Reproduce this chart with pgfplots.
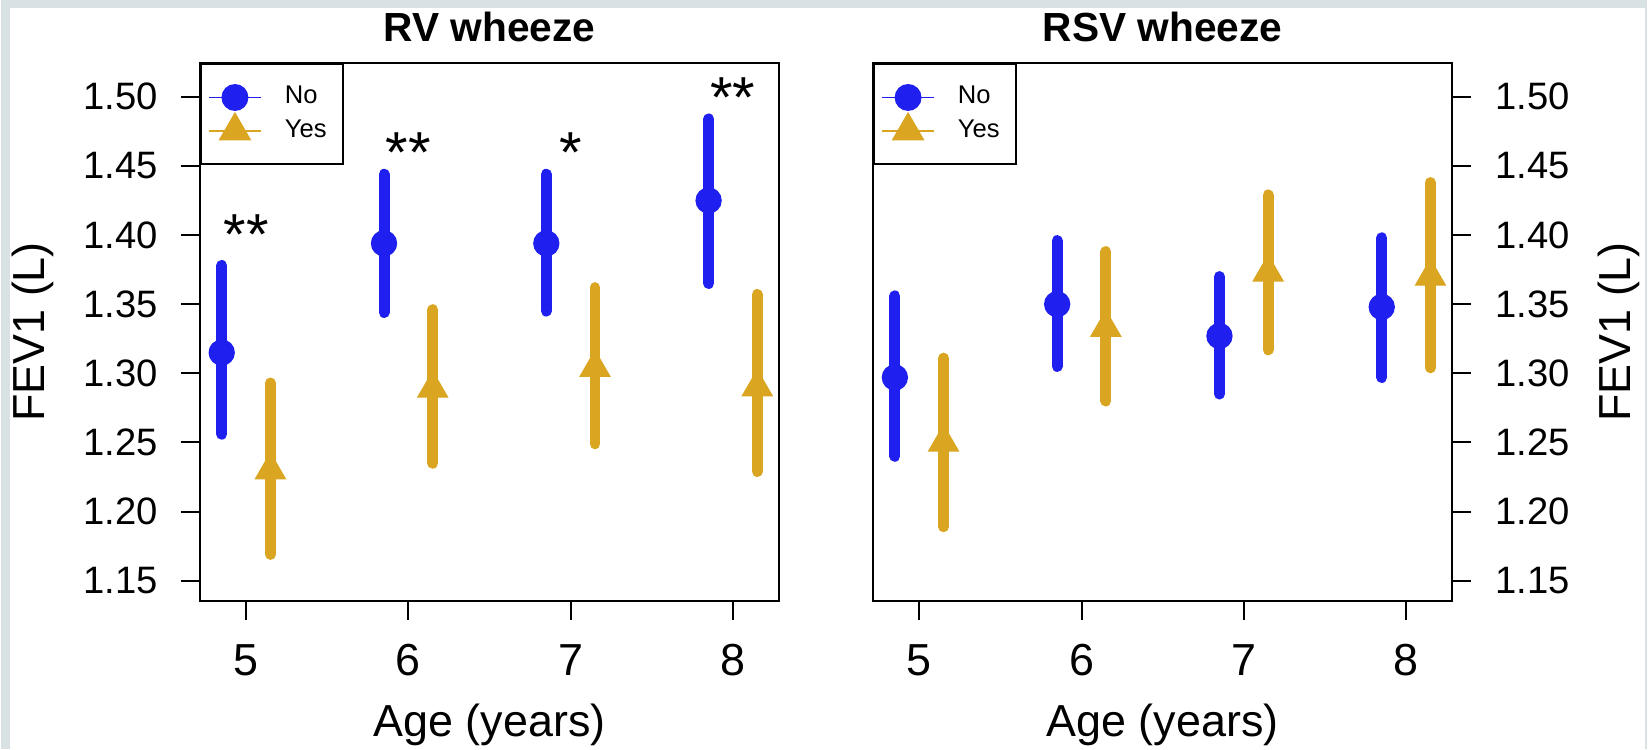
\documentclass[border=0pt]{standalone}
\usepackage{pgfplots}
\pgfplotsset{compat=1.18}
\usepackage{pgfplotstable}
\usepackage{fontspec}
\setmainfont{Liberation Sans}

\definecolor{rblue}{HTML}{1F1FF0}
\definecolor{rgold}{HTML}{DAA520}
\definecolor{strip}{HTML}{D8E2E4}

% x  y  ep  em
\pgfplotstableread{
x y ep em
4.85 1.315 0.063 0.059
5.85 1.394 0.050 0.050
6.85 1.394 0.050 0.049
7.85 1.425 0.059 0.060
}\rvno
\pgfplotstableread{
x y ep em
5.15 1.230 0.063 0.061
6.15 1.289 0.057 0.054
7.15 1.304 0.058 0.055
8.15 1.290 0.067 0.061
}\rvyes
\pgfplotstableread{
x y ep em
4.85 1.297 0.059 0.057
5.85 1.350 0.046 0.045
6.85 1.327 0.043 0.042
7.85 1.348 0.050 0.051
}\rsvno
\pgfplotstableread{
x y ep em
5.15 1.250 0.061 0.061
6.15 1.333 0.055 0.053
7.15 1.373 0.056 0.056
8.15 1.370 0.068 0.066
}\rsvyes

\pgfplotsset{
  fevpanel/.style={
    scale only axis,
    width=58mm, height=53.9mm,
    xmin=4.718, xmax=8.282,
    ymin=1.1356, ymax=1.5244,
    xtick={5,6,7,8},
    ytick={1.15,1.20,1.25,1.30,1.35,1.40,1.45,1.50},
    y tick label style={/pgf/number format/fixed,
      /pgf/number format/fixed zerofill,
      /pgf/number format/precision=2},
    /pgf/number format/assume math mode=true,
    tick align=outside,
    major tick length=1.9mm,
    xtick pos=bottom,
    axis line style={line width=0.2mm},
    every tick/.style={black, line width=0.2mm},
    xticklabel style={font=\fontsize{12.8}{14}\selectfont,
      anchor=base, yshift=-5.6mm},
    yticklabel style={font=\fontsize{10.9}{12}\selectfont, inner sep=0pt},
    label style={font=\fontsize{12.8}{14}\selectfont},
    xlabel={Age (years)},
    ylabel={FEV1 (L)},
    xlabel style={at={(0.5,0)}, anchor=base, inner sep=0pt, yshift=-13.6mm},
    every axis title shift=0pt,
    title style={at={(0.5,1)}, anchor=base, yshift=2.2mm,
      font=\bfseries\fontsize{11.6}{13}\selectfont},
    error bars/y dir=both,
    error bars/y explicit,
    error bars/error mark=none,
    legend image code/.code={
      \path[draw=none, fill=none] (0mm,-1.65mm) rectangle (7.6mm,1.65mm);
      \draw[##1, line width=0.15mm] (0mm,0mm) -- (5.2mm,0mm);
      \draw[##1] plot coordinates {(2.6mm,0mm)};
    },
    legend cell align=left,
    legend style={at={(0,1)}, anchor=north west, draw=black,
      line width=0.2mm, inner xsep=0.7mm, inner ysep=1.7mm,
      row sep=0pt, font=\fontsize{7.3}{8}\selectfont,
      nodes={inner sep=0pt, text width=5.1mm}},
  },
  noseries/.style={only marks, rblue, mark=*, mark size=1.25mm,
    error bars/error bar style={rblue, line width=1.1mm, line cap=round}},
  yesseries/.style={only marks, rgold, mark=triangle*, mark size=1.7mm,
    error bars/error bar style={rgold, line width=1.1mm, line cap=round}},
}

\begin{document}
\begin{tikzpicture}
\fill[strip] (0mm,0mm) rectangle (165.1mm,75.1mm);
\fill[white] (0.9mm,0mm) rectangle (164.9mm,74.3mm);

% RV wheeze
\begin{axis}[fevpanel, at={(20mm,14.9mm)}, anchor=south west,
  title={RV wheeze},
  ytick pos=left,
  yticklabel style={anchor=east, xshift=-2.3mm},
  ylabel style={at={(-0.29,0.5)}, anchor=center}]
\addplot[noseries] table[x=x, y=y, y error plus=ep, y error minus=em] {\rvno};
\addplot[yesseries] table[x=x, y=y, y error plus=ep, y error minus=em] {\rvyes};
\legend{No, Yes}
\node[anchor=base, font=\fontsize{16.5}{18}\selectfont] at (axis cs:5,1.386) {**};
\node[anchor=base, font=\fontsize{16.5}{18}\selectfont] at (axis cs:6,1.445) {**};
\node[anchor=base, font=\fontsize{16.5}{18}\selectfont] at (axis cs:7,1.445) {*};
\node[anchor=base, font=\fontsize{16.5}{18}\selectfont] at (axis cs:8,1.485) {**};
\end{axis}

% RSV wheeze
\begin{axis}[fevpanel, at={(87.5mm,14.9mm)}, anchor=south west,
  title={RSV wheeze},
  ytick pos=right, yticklabel pos=right,
  yticklabel style={anchor=west, xshift=2.4mm},
  ylabel style={at={(1.288,0.5)}, anchor=center}]
\addplot[noseries] table[x=x, y=y, y error plus=ep, y error minus=em] {\rsvno};
\addplot[yesseries] table[x=x, y=y, y error plus=ep, y error minus=em] {\rsvyes};
\legend{No, Yes}
\end{axis}
\end{tikzpicture}
\end{document}
